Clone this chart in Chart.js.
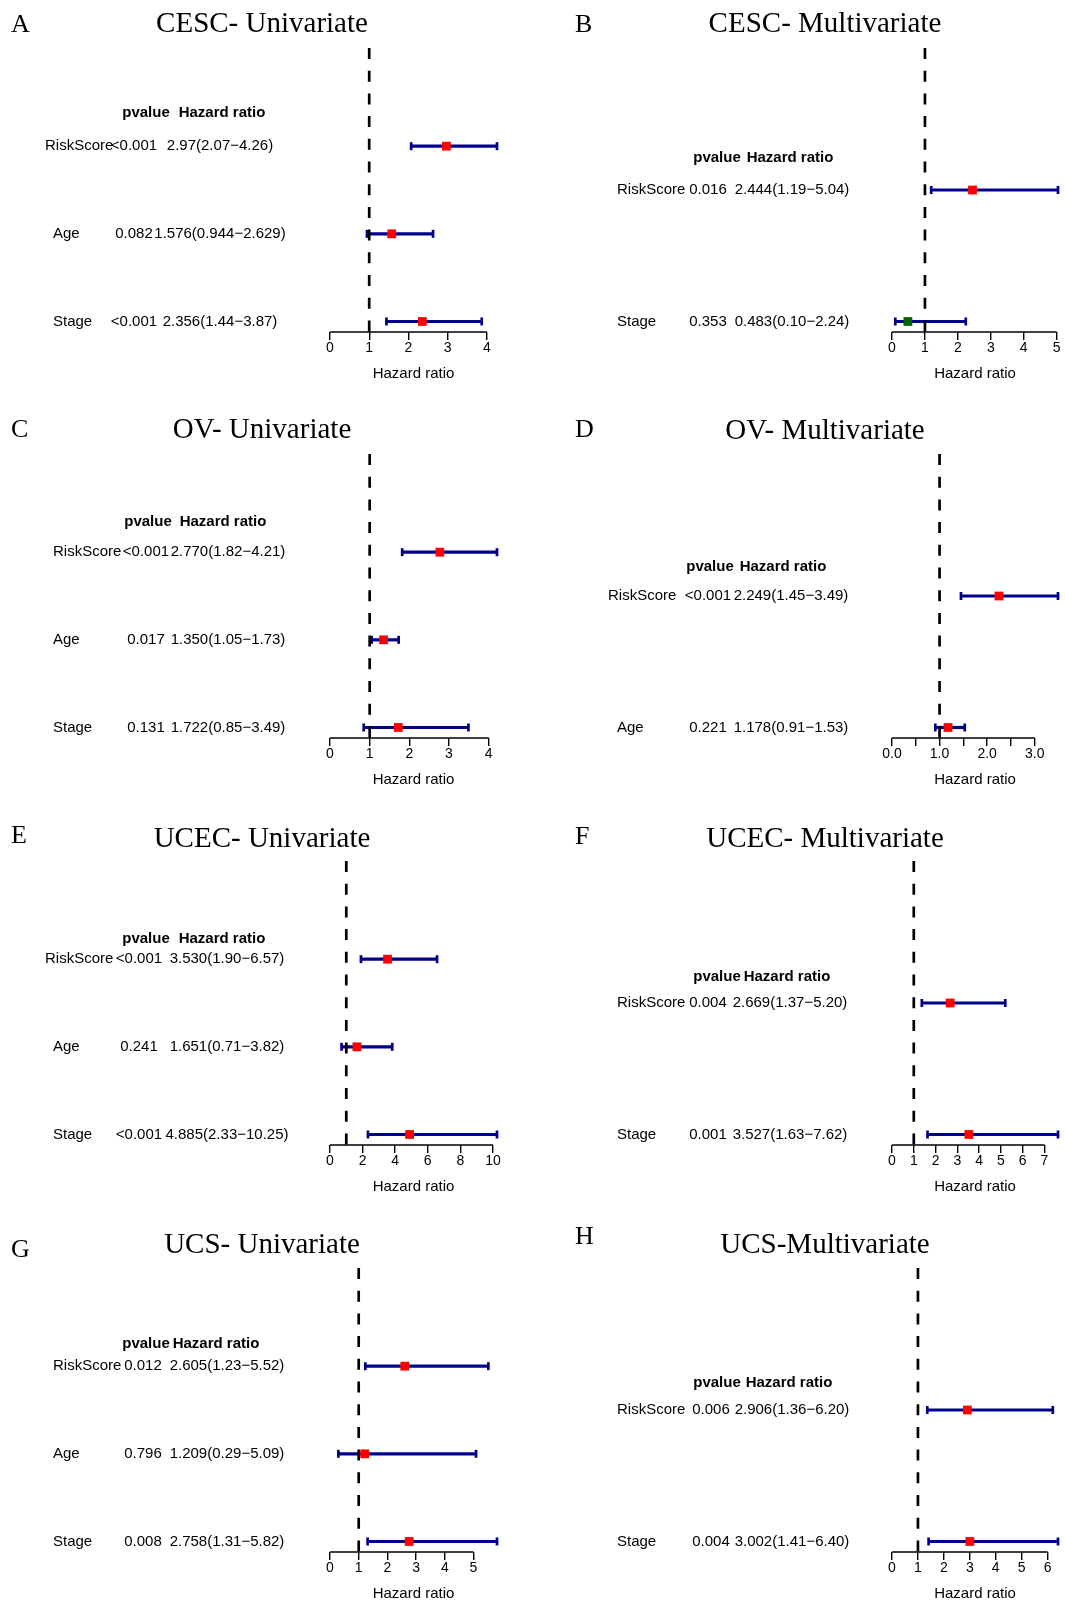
<!DOCTYPE html>
<html>
<head>
<meta charset="utf-8">
<title>Cox regression forest plots</title>
<script src="https://cdn.jsdelivr.net/npm/chart.js@4.4.0/dist/chart.umd.min.js"></script>
<style>
  body { margin: 0; background: #fff; }
  #figure { position: relative; width: 1065px; height: 1603px; background: #fff; }
  #figure canvas { position: absolute; }
</style>
</head>
<body>
<div id="figure"></div>
<script>
// ---- data: one block per panel (hazard ratios kept as printed text) ----
const titles = ['CESC- Univariate', 'CESC- Multivariate', 'OV- Univariate', 'OV- Multivariate',
                'UCEC- Univariate', 'UCEC- Multivariate', 'UCS- Univariate', 'UCS-Multivariate'];

const varsA = ['RiskScore', 'Age', 'Stage'];
const pvalA = ['<0.001', '0.082', '<0.001'];
const hrA = ['2.97', '1.576', '2.356'];
const lowA = ['2.07', '0.944', '1.44'];
const highA = ['4.26', '2.629', '3.87'];
const ticksA = [0, 1, 2, 3, 4];

const varsB = ['RiskScore', 'Stage'];
const pvalB = ['0.016', '0.353'];
const hrB = ['2.444', '0.483'];
const lowB = ['1.19', '0.10'];
const highB = ['5.04', '2.24'];
const ticksB = [0, 1, 2, 3, 4, 5];

const varsC = ['RiskScore', 'Age', 'Stage'];
const pvalC = ['<0.001', '0.017', '0.131'];
const hrC = ['2.770', '1.350', '1.722'];
const lowC = ['1.82', '1.05', '0.85'];
const highC = ['4.21', '1.73', '3.49'];
const ticksC = [0, 1, 2, 3, 4];

const varsD = ['RiskScore', 'Age'];
const pvalD = ['<0.001', '0.221'];
const hrD = ['2.249', '1.178'];
const lowD = ['1.45', '0.91'];
const highD = ['3.49', '1.53'];
const ticksD = [0, 0.5, 1, 1.5, 2, 2.5, 3];
const tickLabelsD = ['0.0', '', '1.0', '', '2.0', '', '3.0'];

const varsE = ['RiskScore', 'Age', 'Stage'];
const pvalE = ['<0.001', '0.241', '<0.001'];
const hrE = ['3.530', '1.651', '4.885'];
const lowE = ['1.90', '0.71', '2.33'];
const highE = ['6.57', '3.82', '10.25'];
const ticksE = [0, 2, 4, 6, 8, 10];

const varsF = ['RiskScore', 'Stage'];
const pvalF = ['0.004', '0.001'];
const hrF = ['2.669', '3.527'];
const lowF = ['1.37', '1.63'];
const highF = ['5.20', '7.62'];
const ticksF = [0, 1, 2, 3, 4, 5, 6, 7];

const varsG = ['RiskScore', 'Age', 'Stage'];
const pvalG = ['0.012', '0.796', '0.008'];
const hrG = ['2.605', '1.209', '2.758'];
const lowG = ['1.23', '0.29', '1.31'];
const highG = ['5.52', '5.09', '5.82'];
const ticksG = [0, 1, 2, 3, 4, 5];

const varsH = ['RiskScore', 'Stage'];
const pvalH = ['0.006', '0.004'];
const hrH = ['2.906', '3.002'];
const lowH = ['1.36', '1.41'];
const highH = ['6.20', '6.40'];
const ticksH = [0, 1, 2, 3, 4, 5, 6];

// ---- placement of each panel and its text columns ----
const colGeom = [
  { left: 0,   letterX: 11, titleX: 262, padLeft: 330, padRight: 35 },
  { left: 533, letterX: 42, titleX: 292, padLeft: 359, padRight: 7 }
];
const rowTops = [0, 406, 813, 1220];
const placement = {
  A: { col: 0, row: 0, letterY: 32, titleY: 32, labelX: [45, 53, 53], pX: 134, hrX: 220, headP: 146, headHR: 222, headGap: 33 },
  B: { col: 1, row: 0, letterY: 32, titleY: 32, labelX: [84, 84],     pX: 175, hrX: 259, headP: 184, headHR: 257, headGap: 32 },
  C: { col: 0, row: 1, letterY: 31, titleY: 32, labelX: [53, 53, 53], pX: 146, hrX: 228, headP: 148, headHR: 223, headGap: 30 },
  D: { col: 1, row: 1, letterY: 31, titleY: 33, labelX: [75, 84],     pX: 175, hrX: 258, headP: 177, headHR: 250, headGap: 29 },
  E: { col: 0, row: 2, letterY: 30, titleY: 34, labelX: [45, 53, 53], pX: 139, hrX: 227, headP: 146, headHR: 222, headGap: 20 },
  F: { col: 1, row: 2, letterY: 31, titleY: 34, labelX: [84, 84],     pX: 175, hrX: 257, headP: 184, headHR: 254, headGap: 26 },
  G: { col: 0, row: 3, letterY: 37, titleY: 33, labelX: [53, 53, 53], pX: 143, hrX: 227, headP: 146, headHR: 216, headGap: 22 },
  H: { col: 1, row: 3, letterY: 24, titleY: 33, labelX: [84, 84],     pX: 178, hrX: 259, headP: 184, headHR: 256, headGap: 27 }
};

const panels = [
  { id: 'A', vars: varsA, p: pvalA, hr: hrA, low: lowA, high: highA, ticks: ticksA },
  { id: 'B', vars: varsB, p: pvalB, hr: hrB, low: lowB, high: highB, ticks: ticksB },
  { id: 'C', vars: varsC, p: pvalC, hr: hrC, low: lowC, high: highC, ticks: ticksC },
  { id: 'D', vars: varsD, p: pvalD, hr: hrD, low: lowD, high: highD, ticks: ticksD, tickLabels: tickLabelsD },
  { id: 'E', vars: varsE, p: pvalE, hr: hrE, low: lowE, high: highE, ticks: ticksE },
  { id: 'F', vars: varsF, p: pvalF, hr: hrF, low: lowF, high: highF, ticks: ticksF },
  { id: 'G', vars: varsG, p: pvalG, hr: hrG, low: lowG, high: highG, ticks: ticksG },
  { id: 'H', vars: varsH, p: pvalH, hr: hrH, low: lowH, high: highH, ticks: ticksH }
];

const SANS = '"Liberation Sans", Arial, sans-serif';
const SERIF = '"Liberation Serif", "Times New Roman", serif';
const BAR = '#00008b';

// reference line at HR = 1, axis line and the text table on the left
const forestDecor = {
  id: 'forestDecor',
  beforeDatasetDraw(chart, args) {
    // dataset 0 (the boxes) is drawn last, so the dashed line sits between bars and boxes
    if (args.index !== 0) return;
    const { ctx, chartArea, scales: { x } } = chart;
    const x1 = x.getPixelForValue(1);
    ctx.save();
    ctx.strokeStyle = '#000';
    ctx.lineWidth = 2.7;
    ctx.setLineDash([11, 11.7]);
    ctx.beginPath();
    ctx.moveTo(x1, chartArea.top);
    ctx.lineTo(x1, chartArea.bottom);
    ctx.stroke();
    ctx.restore();
  },
  afterDraw(chart, args, opts) {
    const { ctx, chartArea, scales: { x, y } } = chart;
    const pan = opts.panel, pl = opts.place, cg = opts.geom;
    ctx.save();
    // axis line only spans first..last tick
    const t = pan.ticks;
    ctx.strokeStyle = '#000';
    ctx.lineWidth = 1.4;
    ctx.beginPath();
    ctx.moveTo(x.getPixelForValue(t[0]), chartArea.bottom);
    ctx.lineTo(x.getPixelForValue(t[t.length - 1]), chartArea.bottom);
    ctx.stroke();

    ctx.fillStyle = '#000';
    ctx.textBaseline = 'alphabetic';
    ctx.font = '26px ' + SERIF;
    ctx.textAlign = 'left';
    ctx.fillText(pan.id, cg.letterX, pl.letterY);
    ctx.font = '29px ' + SERIF;
    ctx.textAlign = 'center';
    ctx.fillText(opts.title, cg.titleX, pl.titleY);

    const n = pan.vars.length;
    const topRow = y.getPixelForValue(n);
    ctx.textBaseline = 'middle';
    ctx.font = 'bold 15px ' + SANS;
    ctx.fillText('pvalue', pl.headP, topRow - pl.headGap);
    ctx.fillText('Hazard ratio', pl.headHR, topRow - pl.headGap);

    ctx.font = '15px ' + SANS;
    pan.vars.forEach((name, i) => {
      const py = y.getPixelForValue(n - i);
      ctx.textAlign = 'left';
      ctx.fillText(name, pl.labelX[i], py);
      ctx.textAlign = 'center';
      ctx.fillText(pan.p[i], pl.pX, py);
      ctx.fillText(pan.hr[i] + '(' + pan.low[i] + '\u2212' + pan.high[i] + ')', pl.hrX, py);
    });
    ctx.restore();
  }
};

const figure = document.getElementById('figure');

panels.forEach((pan, k) => {
  const pl = placement[pan.id];
  const cg = colGeom[pl.col];
  const canvas = document.createElement('canvas');
  canvas.width = 532;
  canvas.height = 383;
  canvas.style.left = cg.left + 'px';
  canvas.style.top = rowTops[pl.row] + 'px';
  figure.appendChild(canvas);

  const n = pan.vars.length;
  const hr = pan.hr.map(Number);
  const low = pan.low.map(Number);
  const high = pan.high.map(Number);
  const labels = pan.tickLabels || pan.ticks.map(String);

  const datasets = [{
    type: 'scatter',
    data: hr.map((v, i) => ({ x: v, y: n - i })),
    pointStyle: 'rect',
    pointRadius: 6.2,
    pointBackgroundColor: hr.map(v => v > 1 ? '#ff0000' : '#006400'),
    pointBorderWidth: 0,
    clip: false
  }];
  low.forEach((lo, i) => {
    datasets.push({
      type: 'line',
      data: [{ x: lo, y: n - i }, { x: high[i], y: n - i }],
      borderColor: BAR,
      borderWidth: 3.2,
      pointStyle: 'line',
      pointRotation: 90,
      pointRadius: 4,
      pointBorderColor: BAR,
      pointBorderWidth: 2.7,
      clip: false
    });
  });

  new Chart(canvas, {
    data: { datasets },
    options: {
      responsive: false,
      animation: false,
      events: [],
      layout: { padding: { left: cg.padLeft, right: cg.padRight, top: 48, bottom: 0 } },
      plugins: {
        legend: { display: false },
        tooltip: { enabled: false },
        forestDecor: { panel: pan, place: pl, geom: cg, title: titles[k] }
      },
      scales: {
        x: {
          type: 'linear',
          min: 0,
          max: Math.max(...high),
          afterBuildTicks: s => { s.ticks = pan.ticks.map(v => ({ value: v })); },
          afterFit: s => { s.height = 51; },
          border: { display: false },
          grid: { drawOnChartArea: false, drawTicks: true, tickLength: 8, color: '#000', lineWidth: 1.4 },
          ticks: {
            autoSkip: false,
            maxRotation: 0,
            padding: 0,
            color: '#000',
            font: { family: SANS, size: 14 },
            callback: (v, i) => labels[i]
          },
          title: { display: true, text: 'Hazard ratio', color: '#000', font: { family: SANS, size: 15 }, padding: 0 }
        },
        y: { type: 'linear', display: false, min: 1 - 0.04 * n, max: n + 1 + 0.04 * n }
      }
    },
    plugins: [forestDecor]
  });
});
</script>
</body>
</html>
